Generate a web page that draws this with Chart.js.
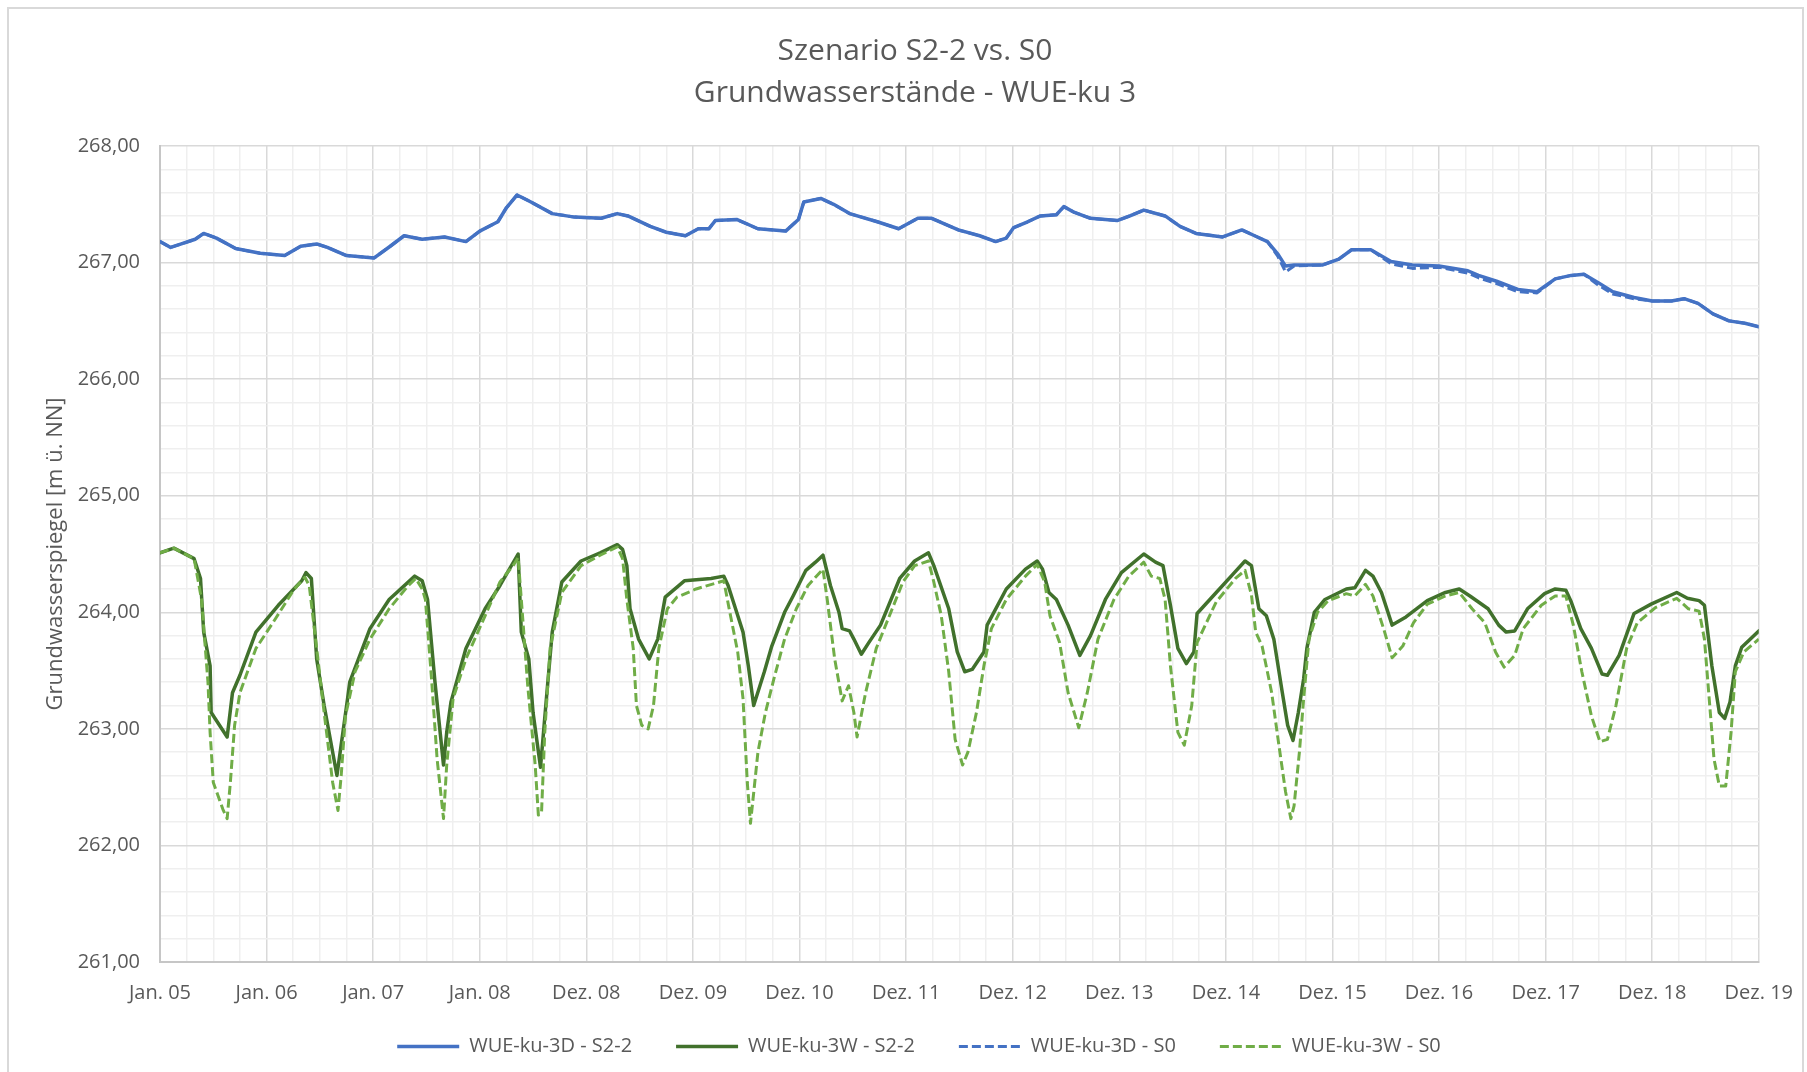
<!DOCTYPE html>
<html><head><meta charset="utf-8">
<script src="https://cdn.jsdelivr.net/npm/chart.js@4/dist/chart.umd.min.js"></script>
<style>
html,body{margin:0;padding:0;background:#fff;overflow:hidden;}
#wrap{position:relative;width:1807px;height:1072px;}
#frame{position:absolute;left:7px;top:7px;width:1797px;height:1100px;border:2px solid #d9d9d9;box-sizing:border-box;pointer-events:none;}
canvas{position:absolute;left:0;top:0;}
</style></head><body>
<div id="wrap"><canvas id="c" width="1807" height="1072"></canvas><div id="frame"></div></div>
<script>
const titleLines = ['Szenario S2-2 vs. S0', 'Grundwasserstände - WUE-ku 3'];
const yTitle = 'Grundwasserspiegel [m ü. NN]';
const xLabels = ['Jan. 05','Jan. 06','Jan. 07','Jan. 08','Dez. 08','Dez. 09','Dez. 10','Dez. 11','Dez. 12','Dez. 13','Dez. 14','Dez. 15','Dez. 16','Dez. 17','Dez. 18','Dez. 19'];
const seriesNames = ['WUE-ku-3D - S2-2','WUE-ku-3W - S2-2','WUE-ku-3D - S0','WUE-ku-3W - S0'];

// x positions in axis units (1 unit = 365 days from Jan. 05)
const blueT = [
0,0.10,0.20,0.33,0.41,0.53,0.71,0.94,1.17,1.32,
1.47,1.57,1.75,2.01,2.16,2.29,2.46,2.67,2.87,3.00,
3.17,3.25,3.35,3.48,3.68,3.89,4.14,4.29,4.39,4.60,
4.75,4.93,5.05,5.15,5.21,5.41,5.61,5.87,5.99,6.04,
6.20,6.32,6.47,6.73,6.93,7.11,7.24,7.49,7.69,7.84,
7.94,8.01,8.14,8.26,8.41,8.48,8.58,8.73,8.98,9.10,
9.23,9.43,9.57,9.72,9.97,10.15,10.27,10.39,10.49,10.56,
10.64,10.91,11.06,11.18,11.36,11.55,11.75,12.00,12.27,12.37,
12.54,12.74,12.92,13.09,13.24,13.36,13.49,13.63,13.83,14.00,
14.18,14.30,14.43,14.57,14.72,14.87,15.00];
const blueS22 = [
267.18,267.13,267.16,267.20,267.25,267.21,267.12,267.08,267.06,267.14,
267.16,267.13,267.06,267.04,267.14,267.23,267.20,267.22,267.18,267.27,
267.35,267.47,267.58,267.52,267.42,267.39,267.38,267.42,267.40,267.31,
267.26,267.23,267.29,267.29,267.36,267.37,267.29,267.27,267.37,267.52,
267.55,267.50,267.42,267.35,267.29,267.38,267.38,267.28,267.23,267.18,
267.21,267.30,267.35,267.40,267.41,267.48,267.43,267.38,267.36,267.40,
267.45,267.40,267.31,267.25,267.22,267.28,267.23,267.18,267.07,266.97,
266.98,266.98,267.03,267.11,267.11,267.01,266.98,266.97,266.93,266.89,
266.84,266.77,266.75,266.86,266.89,266.90,266.83,266.75,266.70,266.67,
266.67,266.69,266.65,266.56,266.50,266.48,266.45];
const blueS0 = [
267.18,267.13,267.16,267.20,267.25,267.21,267.12,267.08,267.06,267.14,
267.16,267.13,267.06,267.04,267.14,267.23,267.20,267.22,267.18,267.27,
267.35,267.47,267.58,267.52,267.42,267.39,267.38,267.42,267.40,267.31,
267.26,267.23,267.29,267.29,267.36,267.37,267.29,267.27,267.37,267.52,
267.55,267.50,267.42,267.35,267.29,267.38,267.38,267.28,267.23,267.18,
267.21,267.30,267.35,267.40,267.41,267.48,267.43,267.38,267.36,267.40,
267.45,267.40,267.31,267.25,267.22,267.28,267.23,267.18,267.05,266.92,
266.97,266.98,267.03,267.11,267.11,266.99,266.95,266.96,266.91,266.87,
266.82,266.75,266.74,266.86,266.89,266.90,266.81,266.73,266.69,266.67,
266.67,266.69,266.65,266.56,266.50,266.48,266.45];

const greenT22 = [
0,0.13,0.32,0.38,0.41,0.47,0.48,0.63,0.68,0.75,
0.90,1.11,1.33,1.37,1.42,1.47,1.54,1.66,1.76,1.78,
1.97,2.15,2.39,2.46,2.51,2.58,2.66,2.69,2.73,2.87,
3.05,3.19,3.36,3.39,3.46,3.50,3.57,3.63,3.68,3.77,
3.95,4.13,4.29,4.34,4.38,4.41,4.49,4.59,4.67,4.74,
4.92,5.17,5.29,5.33,5.40,5.47,5.52,5.57,5.67,5.74,
5.86,5.94,6.06,6.15,6.22,6.29,6.37,6.40,6.47,6.51,
6.58,6.65,6.76,6.94,7.08,7.21,7.26,7.40,7.48,7.55,
7.62,7.73,7.76,7.94,8.12,8.23,8.28,8.34,8.41,8.52,
8.63,8.73,8.87,9.02,9.23,9.34,9.41,9.48,9.55,9.63,
9.70,9.73,9.91,10.08,10.18,10.24,10.31,10.38,10.45,10.53,
10.58,10.63,10.68,10.73,10.76,10.83,10.93,11.13,11.21,11.31,
11.38,11.46,11.51,11.56,11.69,11.89,12.06,12.19,12.29,12.46,
12.56,12.63,12.71,12.83,12.99,13.09,13.19,13.24,13.33,13.43,
13.53,13.58,13.69,13.83,13.99,14.23,14.33,14.44,14.49,14.56,
14.63,14.68,14.73,14.78,14.84,15.00];
const greenS22 = [
264.51,264.55,264.46,264.29,263.83,263.54,263.14,262.93,263.31,263.46,
263.83,264.06,264.27,264.34,264.29,263.60,263.20,262.60,263.26,263.40,
263.86,264.11,264.31,264.27,264.11,263.40,262.69,262.97,263.23,263.69,
264.03,264.23,264.50,263.83,263.60,263.14,262.67,263.31,263.83,264.26,
264.44,264.51,264.58,264.54,264.40,264.03,263.77,263.60,263.77,264.13,
264.27,264.29,264.31,264.23,264.03,263.83,263.54,263.20,263.49,263.71,
264.00,264.14,264.36,264.43,264.49,264.23,264.00,263.86,263.84,263.77,
263.64,263.74,263.89,264.29,264.44,264.51,264.40,264.03,263.66,263.49,
263.51,263.66,263.89,264.20,264.37,264.44,264.37,264.17,264.11,263.89,
263.63,263.80,264.11,264.34,264.50,264.43,264.40,264.06,263.69,263.56,
263.66,263.99,264.17,264.34,264.44,264.40,264.03,263.97,263.77,263.31,
263.03,262.90,263.14,263.43,263.69,264.00,264.11,264.20,264.21,264.36,
264.31,264.17,264.03,263.89,263.96,264.10,264.17,264.20,264.14,264.03,
263.89,263.83,263.84,264.03,264.16,264.20,264.19,264.09,263.86,263.69,
263.47,263.46,263.63,263.99,264.07,264.17,264.12,264.10,264.06,263.54,
263.14,263.09,263.23,263.54,263.70,263.84];

const greenT0 = [
0,0.13,0.32,0.39,0.45,0.47,0.50,0.59,0.63,0.66,
0.70,0.75,0.90,1.08,1.26,1.36,1.40,1.47,1.54,1.62,
1.67,1.70,1.74,1.83,1.97,2.15,2.33,2.40,2.46,2.49,
2.55,2.60,2.66,2.69,2.75,2.87,3.05,3.19,3.32,3.36,
3.39,3.45,3.52,3.55,3.58,3.61,3.66,3.77,3.95,4.13,
4.29,4.34,4.38,4.44,4.47,4.52,4.58,4.63,4.68,4.76,
4.85,5.03,5.29,5.34,5.42,5.47,5.51,5.54,5.61,5.68,
5.76,5.86,5.97,6.08,6.22,6.26,6.33,6.40,6.46,6.51,
6.54,6.62,6.72,6.87,6.97,7.08,7.21,7.26,7.33,7.40,
7.46,7.53,7.58,7.66,7.73,7.80,7.94,8.12,8.23,8.30,
8.35,8.44,8.52,8.62,8.70,8.80,8.95,9.09,9.23,9.30,
9.38,9.43,9.48,9.55,9.61,9.68,9.73,9.91,10.09,10.18,
10.24,10.28,10.34,10.43,10.49,10.56,10.61,10.64,10.69,10.73,
10.78,10.86,10.96,11.13,11.21,11.31,11.38,11.48,11.56,11.66,
11.76,11.89,12.06,12.19,12.31,12.43,12.53,12.61,12.71,12.79,
12.96,13.09,13.19,13.26,13.34,13.43,13.51,13.58,13.66,13.76,
13.86,14.03,14.23,14.34,14.44,14.49,14.54,14.58,14.63,14.69,
14.74,14.78,14.86,15.00];
const greenS0 = [
264.51,264.55,264.46,264.11,263.40,262.97,262.54,262.31,262.23,262.54,
263.03,263.31,263.69,263.94,264.20,264.30,264.23,263.69,263.14,262.54,
262.30,262.60,263.11,263.49,263.77,264.03,264.23,264.29,264.20,264.11,
263.40,262.74,262.23,262.69,263.26,263.60,263.97,264.26,264.41,264.47,
264.11,263.37,262.69,262.26,262.29,262.97,263.69,264.17,264.40,264.49,
264.56,264.46,264.11,263.69,263.20,263.03,263.00,263.20,263.69,264.03,
264.13,264.20,264.27,264.03,263.66,263.26,262.54,262.19,262.80,263.14,
263.43,263.77,264.03,264.23,264.37,264.11,263.60,263.24,263.37,263.14,
262.93,263.31,263.69,264.03,264.26,264.40,264.44,264.26,263.97,263.49,
262.91,262.69,262.80,263.14,263.54,263.86,264.11,264.31,264.41,264.26,
263.97,263.74,263.31,263.01,263.31,263.77,264.11,264.31,264.43,264.31,
264.29,264.11,263.54,262.97,262.86,263.20,263.74,264.09,264.29,264.36,
264.15,263.83,263.71,263.31,262.91,262.46,262.23,262.34,262.80,263.26,
263.77,264.00,264.10,264.16,264.14,264.24,264.14,263.86,263.61,263.71,
263.91,264.07,264.14,264.17,264.03,263.91,263.66,263.53,263.63,263.86,
264.06,264.14,264.14,263.89,263.49,263.11,262.89,262.91,263.20,263.69,
263.91,264.04,264.12,264.03,264.01,263.77,263.20,262.74,262.51,262.51,
262.97,263.49,263.66,263.77];

const FONT = "'Open Sans', 'Liberation Sans', sans-serif";
const TXT = '#595959';
const isInt = v => Math.abs(v - Math.round(v)) < 1e-6;
const pts = (xs, ys) => xs.map((x, i) => ({x: x, y: ys[i]}));

// let x tick labels extend below the (shortened) axis box without being clipped,
// and nudge the legend row to the reference position
const layoutTweaks = {
  id: 'layoutTweaks',
  afterLayout(chart) {
    const x = chart.scales.x;
    x.bottom = x.top + 60;
    x.height = 60;
    const lg = chart.legend;
    lg.left += 4;
    lg.right += 4;
  }
};

new Chart(document.getElementById('c'), {
  type: 'line',
  data: { datasets: [
    {label: seriesNames[0], data: pts(blueT, blueS22), borderColor: '#4472C4', backgroundColor: '#4472C4', borderWidth: 3.5, borderCapStyle: 'round', order: 3},
    {label: seriesNames[1], data: pts(greenT22, greenS22), borderColor: '#41712C', backgroundColor: '#41712C', borderWidth: 3.5, borderCapStyle: 'round', order: 2},
    {label: seriesNames[2], data: pts(blueT, blueS0), borderColor: '#4472C4', backgroundColor: '#4472C4', borderWidth: 3, borderDash: [9, 4], order: 1},
    {label: seriesNames[3], data: pts(greenT0, greenS0), borderColor: '#70AD47', backgroundColor: '#70AD47', borderWidth: 3, borderDash: [9, 4], order: 0}
  ]},
  plugins: [layoutTweaks],
  options: {
    responsive: false,
    animation: false,
    devicePixelRatio: 1,
    layout: {padding: {left: 71, right: 48, top: 0, bottom: 5.5}},
    elements: {point: {radius: 0}, line: {tension: 0, borderJoinStyle: 'round', fill: false}},
    plugins: {
      title: {display: true, text: titleLines, color: TXT,
        font: {family: FONT, size: 30, weight: 'normal', lineHeight: 1.4},
        padding: {top: 30.5, bottom: 31.5}},
      legend: {position: 'bottom',
        labels: {usePointStyle: true, pointStyle: 'line', pointStyleWidth: 62, padding: 44, color: TXT,
          font: {family: FONT, size: 20},
          sort: (a, b) => a.datasetIndex - b.datasetIndex,
          generateLabels(chart) {
            const items = Chart.defaults.plugins.legend.labels.generateLabels(chart);
            items.forEach(it => {
              const ds = chart.data.datasets[it.datasetIndex];
              it.lineDash = ds.borderDash || [];
              it.lineWidth = ds.borderWidth;
              it.strokeStyle = ds.borderColor;
              it.fillStyle = ds.borderColor;
              it.lineCap = 'butt';
              it.pointStyle = 'line';
            });
            return items;
          }}},
      tooltip: {enabled: false}
    },
    scales: {
      x: {type: 'linear', min: 0, max: 15,
        afterFit(s) { s.height = 30.5; },
        ticks: {stepSize: 0.25, autoSkip: false, maxRotation: 0, minRotation: 0, padding: 14, color: TXT,
          font: {family: FONT, size: 20},
          callback: v => isInt(v) ? xLabels[Math.round(v)] : ''},
        grid: {drawTicks: true, tickLength: 5, tickColor: 'rgba(0,0,0,0)', lineWidth: 1.5,
          color: c => (c.tick && isInt(c.tick.value)) ? '#d9d9d9' : '#efefef'},
        border: {color: '#c6c6c6', width: 2}},
      y: {min: 261, max: 268,
        afterFit(s) { s.width = 89; },
        ticks: {stepSize: 0.2, autoSkip: false, padding: 20, color: TXT,
          font: {family: FONT, size: 20},
          callback: v => isInt(v) ? Number(v).toFixed(2).replace('.', ',') : ''},
        grid: {drawTicks: false, lineWidth: 1.5, color: c => (c.tick && isInt(c.tick.value)) ? '#d9d9d9' : '#efefef'},
        border: {color: '#c6c6c6', width: 2},
        title: {display: true, text: yTitle, color: TXT, font: {family: FONT, size: 22}, padding: {top: -28.5, bottom: 0}}}
    }
  }
});
</script>
</body></html>
